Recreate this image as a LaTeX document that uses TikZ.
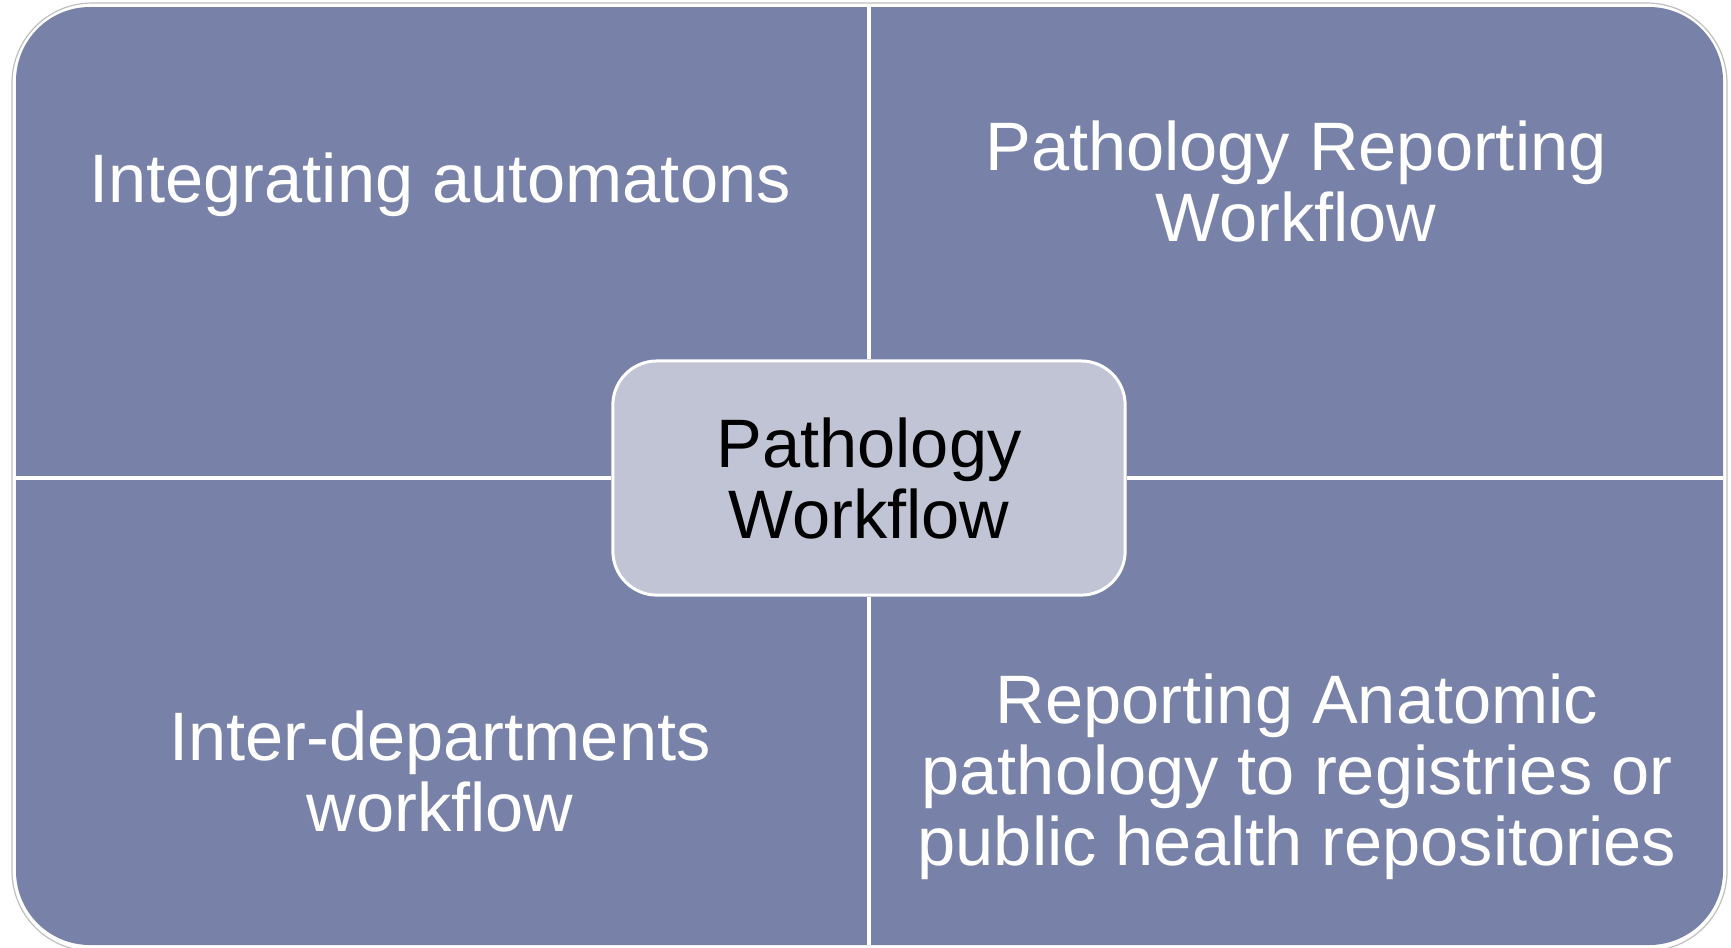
\documentclass[tikz,border=0pt]{standalone}
\usepackage{fontspec}
\setmainfont{Liberation Sans}
\definecolor{quadblue}{RGB}{120,130,168}
\definecolor{hubfill}{RGB}{192,196,212}
\tikzset{
    quadtext/.style={text=white, align=center, font=\fontsize{19.5}{20.2}\selectfont},
    divider/.style={white, line width=0.04cm},
}
\begin{document}
\begin{tikzpicture}[x=0.01cm,y=-0.01cm]
            \useasboundingbox (0,0) rectangle (1731,947);
            % Frame
            \draw [color=black!25,line width=0.012cm,rounded corners=0.8cm] (12,3) rectangle (1727,951);
            \fill [quadblue,rounded corners=0.74cm] (16,7) rectangle (1723,945);

            % Centre
            \node [draw=white,line width=0.03cm,fill=hubfill,rounded corners=0.44cm,
                minimum width=5.12cm,minimum height=2.34cm,align=center,
                font=\fontsize{19.5}{20.2}\selectfont] (hub) at (869,478) {Pathology\\Workflow};

            % Dividers
            \coordinate (top) at (869,7);
            \coordinate (bottom) at (869,945);
            \coordinate (left) at (16,478);
            \coordinate (right) at (1723,478);
            \draw [divider] (top)--(hub.north);
            \draw [divider] (bottom)--(hub.south);
            \draw [divider] (left)--(hub.west);
            \draw [divider] (right)--(hub.east);

            % Quadrants
            \node [quadtext] (automatons) at (440,185) {Integrating automatons};
            \node [quadtext] (reporting) at (1296,181) {Pathology Reporting\\Workflow};
            \node [quadtext] (interdept) at (440,771) {Inter-departments\\workflow};
            \node [quadtext] (registries) at (1297,777) {Reporting Anatomic\\pathology to registries or\\public health repositories};
        \end{tikzpicture}
\end{document}
